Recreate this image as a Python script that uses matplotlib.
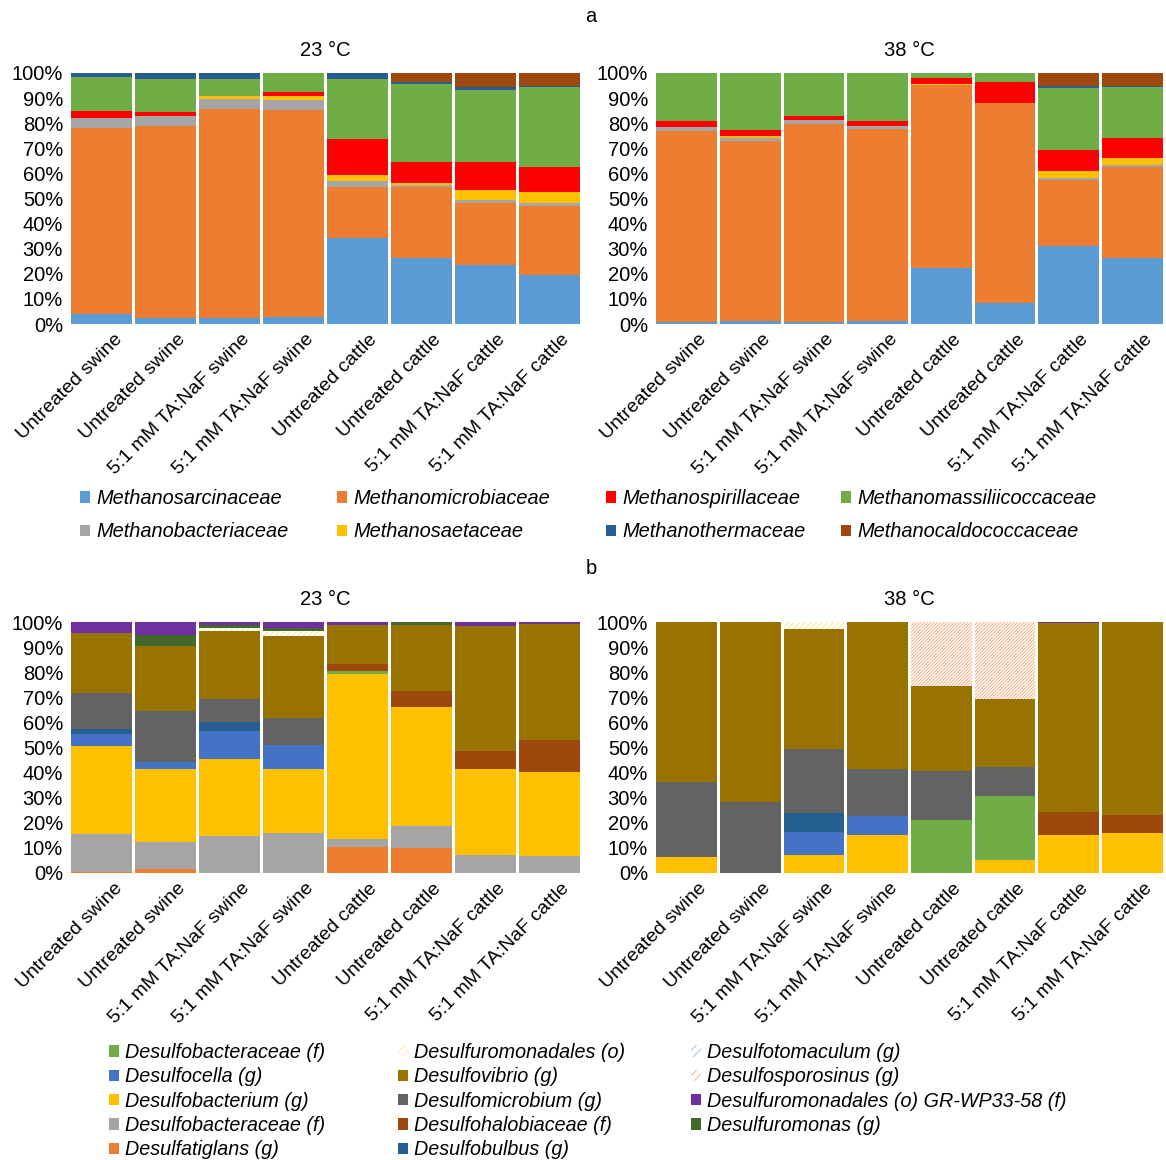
import matplotlib
matplotlib.use("Agg")
import matplotlib.pyplot as plt
from matplotlib.patches import Patch
import numpy as np

plt.rcParams['font.family'] = ['Liberation Sans', 'DejaVu Sans']
plt.rcParams['hatch.linewidth'] = 0.7

# Echantillons (axe x)
samples = ["Untreated swine", "Untreated swine", "5:1 mM TA:NaF swine", "5:1 mM TA:NaF swine",
           "Untreated cattle", "Untreated cattle", "5:1 mM TA:NaF cattle", "5:1 mM TA:NaF cattle"]

# --- a : methanogenes (ordre d'empilement, du bas vers le haut)
meth_names = ["Methanosarcinaceae", "Methanomicrobiaceae", "Methanobacteriaceae", "Methanosaetaceae",
              "Methanospirillaceae", "Methanomassiliicoccaceae", "Methanothermaceae", "Methanocaldococcaceae"]
meth_colors = ["#5B9BD5", "#ED7D31", "#A5A5A5", "#FFC000", "#FF0000", "#70AD47", "#255E91", "#9E480E"]

meth_23 = [
    [4.0, 2.3, 2.3, 2.9, 34.3, 26.2, 23.4, 19.5],
    [73.9, 76.6, 83.5, 82.3, 20.4, 28.4, 24.9, 27.4],
    [4.2, 4.1, 3.9, 4.2, 2.3, 0.9, 1.0, 1.2],
    [0, 0, 1.3, 1.3, 2.3, 0.7, 4.2, 4.4],
    [2.9, 1.4, 0, 1.9, 14.5, 8.4, 11.0, 10.0],
    [13.3, 13.2, 6.7, 7.4, 23.8, 31.0, 28.9, 32.1],
    [1.7, 2.4, 2.3, 0, 2.4, 1.0, 0.9, 0.2],
    [0, 0, 0, 0, 0, 3.4, 5.7, 5.2],
]
meth_38 = [
    [0.8, 1.1, 0.7, 1.2, 22.4, 8.3, 30.9, 26.2],
    [75.9, 71.7, 78.8, 76.4, 72.8, 79.8, 26.5, 36.4],
    [1.6, 1.5, 1.6, 1.3, 0, 0, 0.7, 0.6],
    [0, 0.7, 0, 0, 0.6, 0, 2.7, 2.8],
    [2.6, 2.1, 1.7, 2.0, 2.2, 8.5, 8.7, 8.0],
    [19.1, 22.9, 17.2, 19.1, 2.0, 3.4, 24.4, 20.3],
    [0, 0, 0, 0, 0, 0, 0.8, 0.7],
    [0, 0, 0, 0, 0, 0, 5.3, 5.0],
]
# colonnes de la legende a
meth_legend_cols = [[0, 2], [1, 3], [4, 6], [5, 7]]

# --- b : bacteries sulfato-reductrices
srb_names = ["Desulfatiglans (g)", "Desulfobacteraceae (f)", "Desulfobacterium (g)", "Desulfobacteraceae (f)",
             "Desulfocella (g)", "Desulfobulbus (g)", "Desulfomicrobium (g)", "Desulfohalobiaceae (f)",
             "Desulfovibrio (g)", "Desulfuromonadales (o)", "Desulfotomaculum (g)", "Desulfosporosinus (g)",
             "Desulfuromonas (g)", "Desulfuromonadales (o) GR-WP33-58 (f)"]
srb_colors = ["#ED7D31", "#A5A5A5", "#FFC000", "#70AD47", "#4472C4", "#255E91", "#636363", "#9E480E",
              "#997300", "#FFE699", "#9DC3E6", "#F4B183", "#43682B", "#7030A0"]
srb_hatch = [None] * 9 + ["//////", "//////", "//////////", None, None]

srb_23 = [
    [0.5, 1.7, 0, 0, 10.5, 9.9, 0, 0],
    [14.9, 10.8, 14.6, 16.0, 3.2, 8.8, 7.0, 6.8],
    [35.0, 29.1, 30.9, 25.6, 65.6, 47.5, 34.6, 33.3],
    [0, 0, 0, 0, 1.3, 0, 0, 0],
    [4.9, 2.8, 10.9, 9.2, 0, 0, 0, 0],
    [1.9, 0, 3.7, 0, 0, 0, 0, 0],
    [14.7, 20.1, 9.4, 11.0, 0, 0, 0, 0],
    [0, 0, 0, 0, 2.6, 6.5, 7.2, 13.0],
    [23.9, 26.0, 27.1, 32.6, 15.7, 26.2, 49.7, 46.2],
    [0, 0, 1.1, 2.2, 0, 0, 0, 0],
    [0, 0, 0, 0, 0, 0, 0, 0],
    [0, 0, 0, 0, 0, 0, 0, 0],
    [0, 4.2, 1.2, 1.0, 0, 1.1, 0, 0],
    [4.2, 5.3, 1.1, 2.4, 1.1, 0, 1.5, 0.7],
]
srb_38 = [
    [0, 0, 0, 0, 0, 0, 0, 0],
    [0, 0, 0, 0, 0, 0, 0, 0],
    [6.2, 0, 7.3, 15.1, 0, 5.2, 15.2, 15.8],
    [0, 0, 0, 0, 21.2, 25.4, 0, 0],
    [0, 0, 9.1, 7.5, 0, 0, 0, 0],
    [0, 0, 7.6, 0, 0, 0, 0, 0],
    [30.0, 28.2, 25.3, 18.9, 19.3, 11.8, 0, 0],
    [0, 0, 0, 0, 0, 0, 9.0, 7.4],
    [63.8, 71.8, 47.9, 58.5, 34.1, 27.1, 75.4, 76.8],
    [0, 0, 2.8, 0, 0, 0, 0, 0],
    [0, 0, 0, 0, 0, 0, 0, 0],
    [0, 0, 0, 0, 25.4, 30.5, 0, 0],
    [0, 0, 0, 0, 0, 0, 0, 0],
    [0, 0, 0, 0, 0, 0, 0.4, 0],
]
# colonnes de la legende b
srb_legend_cols = [[3, 4, 2, 1, 0], [9, 8, 6, 7, 5], [10, 11, 13, 12]]

W, H = 1166, 1160
fig = plt.figure(figsize=(W / 100, H / 100), dpi=100)


def px_axes(x0, x1, ytop, ybot):
    return fig.add_axes([x0 / W, 1 - ybot / H, (x1 - x0) / W, (ybot - ytop) / H])


def stacked(ax, data, colors, hatches, title):
    x = np.arange(len(samples))
    bottom = np.zeros(len(samples))
    for i, vals in enumerate(data):
        vals = np.array(vals, dtype=float)
        h = hatches[i] if hatches else None
        if h:
            ax.bar(x, vals, 0.955, bottom=bottom, facecolor="white", edgecolor=colors[i],
                   hatch=h, linewidth=0)
        else:
            ax.bar(x, vals, 0.955, bottom=bottom, color=colors[i], linewidth=0)
        bottom += vals
    ax.set_xlim(-0.5, len(samples) - 0.5)
    ax.set_ylim(0, 100)
    ax.set_yticks(np.arange(0, 101, 10))
    ax.set_yticklabels([f"{v}%" for v in range(0, 101, 10)], fontsize=14.5)
    # les etiquettes finissent un peu a droite du centre de la barre
    ax.set_xticks(x + 0.18)
    ax.set_xticklabels(samples, rotation=45, ha="right", va="top", rotation_mode="anchor", fontsize=14)
    ax.tick_params(length=0, pad=5)
    for s in ax.spines.values():
        s.set_visible(False)
    ax.set_title(title, fontsize=14.5, pad=12)


# Panneau a
ax1 = px_axes(70, 581, 73, 324)
ax2 = px_axes(655, 1164, 73, 324)
stacked(ax1, meth_23, meth_colors, None, "23 °C")
stacked(ax2, meth_38, meth_colors, None, "38 °C")

# Panneau b
ax3 = px_axes(70, 581, 622, 873)
ax4 = px_axes(655, 1164, 622, 873)
stacked(ax3, srb_23, srb_colors, srb_hatch, "23 °C")
stacked(ax4, srb_38, srb_colors, srb_hatch, "38 °C")

fig.text(591 / W, 1 - 17 / H, "a", fontsize=14.5, ha="center", va="center")
fig.text(591 / W, 1 - 568 / H, "b", fontsize=14.5, ha="center", va="center")

# Legende a : une legende par colonne
for col, x0 in zip(meth_legend_cols, [80, 337, 606, 841]):
    hs = [Patch(facecolor=meth_colors[i], label=meth_names[i]) for i in col]
    fig.legend(handles=hs, loc="upper left", bbox_to_anchor=(x0 / W, 1 - 489 / H), frameon=False,
               prop={"style": "italic", "size": 14.4}, handlelength=0.5, handleheight=0.5,
               handletextpad=0.3, labelspacing=0.72, borderaxespad=0, borderpad=0)

# Legende b
for col, x0 in zip(srb_legend_cols, [109, 398, 691]):
    hs = []
    for i in col:
        if srb_hatch[i]:
            hs.append(Patch(facecolor="white", edgecolor=srb_colors[i], hatch="////", linewidth=0,
                            label=srb_names[i]))
        else:
            hs.append(Patch(facecolor=srb_colors[i], label=srb_names[i]))
    fig.legend(handles=hs, loc="upper left", bbox_to_anchor=(x0 / W, 1 - 1043 / H), frameon=False,
               prop={"style": "italic", "size": 14.2}, handlelength=0.5, handleheight=0.5,
               handletextpad=0.3, labelspacing=0.27, borderaxespad=0, borderpad=0)

fig.savefig("out.png", dpi=100)
